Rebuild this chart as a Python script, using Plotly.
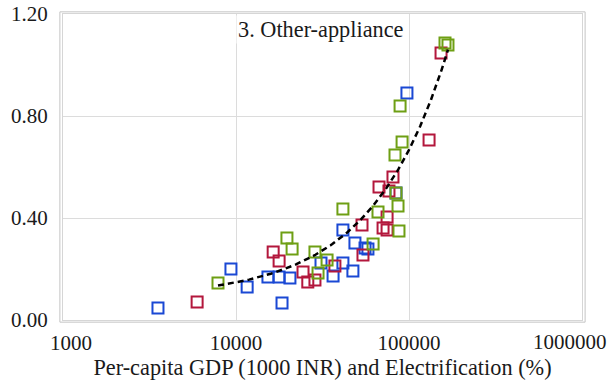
import numpy as np
import plotly.graph_objects as go

# Per-capita GDP / electrification index (x) vs. other-appliance demand (y)
blue_x = [3540, 9350, 11600, 18450, 15300, 17750, 20500, 31000, 36400, 41500,
          41500, 47400, 48700, 55700, 57900, 84100, 97300]
blue_y = [0.047, 0.200, 0.129, 0.067, 0.169, 0.169, 0.165, 0.224, 0.173, 0.353,
          0.224, 0.192, 0.302, 0.282, 0.278, 0.498, 0.890]

red_x = [5960, 16400, 17750, 24400, 26000, 28600, 37300, 53500, 54200, 67100,
         70800, 74700, 74700, 76600, 80800, 130600, 153200]
red_y = [0.071, 0.267, 0.231, 0.188, 0.149, 0.157, 0.212, 0.373, 0.255, 0.522,
         0.361, 0.353, 0.404, 0.506, 0.561, 0.706, 1.047]

green_x = [7870, 19700, 21100, 28600, 33600, 29800, 41500, 62000, 66200, 84100,
           86400, 87500, 83000, 91200, 88800, 161500, 168000]
green_y = [0.145, 0.322, 0.278, 0.267, 0.235, 0.184, 0.435, 0.298, 0.424, 0.498,
           0.447, 0.349, 0.647, 0.698, 0.839, 1.086, 1.078]

x_ticks = [1000, 10000, 100000, 1000000]
x_tick_text = ["1000", "10000", "100000", "1000000"]
y_ticks = [0.0, 0.4, 0.8, 1.2]

BLUE = "#1a48d4"
RED = "#b3173c"
GREEN = "#6e9f14"
FONT = "Times New Roman"
NBSP = "\u00a0"

# keep the outermost x labels inside the chart area: the first is padded,
# the last is placed right-aligned against the chart edge as an annotation
x_labels = list(x_tick_text)
x_labels[0] = NBSP * 3 + x_labels[0]
last_label = x_labels[-1]
x_labels[-1] = ""

fig = go.Figure()

for xs, ys, col in [(blue_x, blue_y, BLUE), (red_x, red_y, RED), (green_x, green_y, GREEN)]:
    fig.add_trace(go.Scatter(
        x=xs, y=ys, mode="markers",
        marker=dict(symbol="square-open", size=11, color=col, line=dict(width=2, color=col)),
        showlegend=False,
    ))

# Linear trend of the green series, drawn over its x-range
slope, intercept = np.polyfit(green_x, green_y, 1)
tx = np.linspace(min(green_x), max(green_x), 200)
fig.add_trace(go.Scatter(
    x=tx, y=intercept + slope * tx, mode="lines",
    line=dict(color="black", width=2.5, dash="6px,4px"),
    showlegend=False, hoverinfo="skip",
))

fig.update_layout(
    width=613, height=384,
    margin=dict(l=63, r=31, t=14, b=64, autoexpand=False),
    paper_bgcolor="white", plot_bgcolor="white",
    font=dict(family=FONT, size=21, color="#1a1a1a"),
    xaxis=dict(
        type="log", range=[3, 6], automargin=False,
        tickvals=x_ticks, ticktext=x_labels,
        tickfont=dict(family=FONT, size=21),
        showgrid=True, gridcolor="#dcdcdc", gridwidth=1,
        showline=True, linecolor="#d6d6d6", linewidth=1, mirror=True,
        ticks="", ticklabelstandoff=4, zeroline=False,
        title=dict(text="Per-capita GDP (1000 INR) and Electrification (%)",
                   font=dict(family=FONT, size=22.3), standoff=5),
    ),
    yaxis=dict(
        range=[0, 1.2], tickvals=y_ticks, tickformat=".2f", automargin=False,
        tickfont=dict(family=FONT, size=21),
        showgrid=True, gridcolor="#dcdcdc", gridwidth=1,
        showline=True, linecolor="#d6d6d6", linewidth=1, mirror=True,
        ticks="", ticklabelstandoff=10, ticklabeloverflow="allow", zeroline=False,
    ),
    shapes=[dict(type="rect", xref="paper", yref="paper",
                 x0=-0.006, x1=1.006, y0=-0.007, y1=1.007,
                 line=dict(color="#c4c4c4", width=1), fillcolor="rgba(0,0,0,0)",
                 layer="below")],
    annotations=[
        dict(text="3. Other-appliance", xref="paper", yref="paper",
             x=0.497, y=0.948, xanchor="center", yanchor="middle",
             showarrow=False, bgcolor="white",
             font=dict(family=FONT, size=22.3, color="#1a1a1a")),
        dict(text=last_label, xref="paper", yref="paper",
             x=1.051, y=-0.072, xanchor="right", yanchor="middle",
             showarrow=False, borderpad=0,
             font=dict(family=FONT, size=21, color="#1a1a1a")),
    ],
)

fig.write_html("out.html")
